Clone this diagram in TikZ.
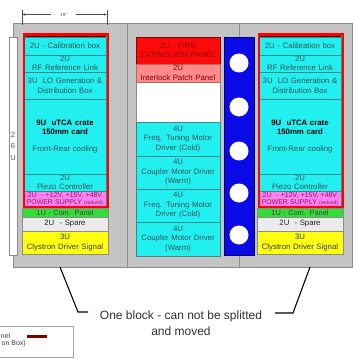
\documentclass[tikz,border=0pt]{standalone}
\usepackage{fontspec}
\setmainfont{Liberation Sans}
\usetikzlibrary{arrows.meta}
\definecolor{rackgray}{HTML}{C4C4C4}
\definecolor{rackline}{HTML}{8C8C8C}
\definecolor{cyanfill}{HTML}{22F0F0}
\definecolor{cellline}{HTML}{3A8A8A}
\definecolor{celltext}{HTML}{2E5656}
\definecolor{firered}{HTML}{FF0A0A}
\definecolor{firetext}{HTML}{8A0000}
\definecolor{interfill}{HTML}{FF8A8A}
\definecolor{pinkfill}{HTML}{FF80F0}
\definecolor{pinktext}{HTML}{802060}
\definecolor{greenfill}{HTML}{33DD33}
\definecolor{sparefill}{HTML}{EBEBEB}
\definecolor{yellowfill}{HTML}{FFFF10}
\definecolor{bluefill}{HTML}{0A0AE6}
\definecolor{darkband}{HTML}{3A0000}
\definecolor{legendred}{HTML}{800000}
\definecolor{msgtext}{HTML}{303030}
\tikzset{
  box/.style={anchor=north west, inner sep=0pt, outer sep=0pt, align=center,
    font=\fontsize{7.8}{9.6}\selectfont, line width=0.4pt},
  cy/.style={box, draw=cellline, fill=cyanfill, text=celltext, minimum width=82pt, text width=82pt},
  cym/.style={box, draw=cellline, fill=cyanfill, text=celltext, minimum width=84pt, text width=84pt},
  rackbox/.style={anchor=north west, inner sep=0pt, draw=rackline, fill=rackgray, line width=0.6pt},
  redframe/.style={anchor=north west, inner sep=0pt, draw=red, line width=2.4pt, minimum width=84pt, minimum height=172.8pt},
  band/.style={anchor=north west, inner sep=0pt, fill=darkband, minimum width=82pt, minimum height=3pt},
  hole/.style={circle, fill=white, inner sep=0pt, minimum size=19pt},
  msg/.style={anchor=base, font=\fontsize{12}{16}\selectfont, text=msgtext, inner sep=0pt},
  conn/.style={draw=black, line width=1.1pt},
}
\newcommand\rackcol[2]{%
  \node[cy, minimum height=18pt] (#1cal) at (#2+2,37) {2U - Calibration box};
  \node[cy, minimum height=17pt] (#1rf) at (#2+2,55) {2U\\RF Reference Link};
  \node[cy, minimum height=27pt] (#1lo) at (#2+2,72) {3U\ \ LO Generation \&\\Distribution Box};
  \node[cy, minimum height=75pt] (#1crate) at (#2+2,99) {\textcolor{black}{\textbf{9U\ \ uTCA crate}}\\\textcolor{black}{\textbf{150mm card}}\\[7pt]Front-Rear cooling};
  \node[cy, minimum height=17pt] (#1piezo) at (#2+2,174) {2U\\Piezo Controller};
  \node[cy, fill=pinkfill, text=pinktext, minimum height=16pt, font=\fontsize{6.9}{7.6}\selectfont] (#1power) at (#2+2,191) {2U\ \ - +12V, +15V, +48V\\POWER SUPPLY {\fontsize{5}{6}\selectfont (redund)}};
  \node[band] (#1band) at (#2+2,34) {};
  \node[redframe] (#1frame) at (#2+1,33.2) {};
  \node[box, draw=rackline, fill=greenfill, text=black!75, minimum width=86pt, text width=86pt, minimum height=9pt, font=\fontsize{7.4}{8}\selectfont] (#1com) at (#2,208) {1U - Com. Panel};
  \node[box, draw=rackline, fill=sparefill, text=black!85, minimum width=86pt, text width=86pt, minimum height=14pt] (#1spare) at (#2,217) {2U\ \ - Spare};
  \node[box, draw=rackline, fill=yellowfill, text=black!75!yellow!40!black, minimum width=86pt, text width=86pt, minimum height=23pt] (#1cly) at (#2,231) {3U\\Clystron Driver Signal};
}
\begin{document}
\begin{tikzpicture}[x=1pt, y=-1pt]
\useasboundingbox (0,0) rectangle (355,361);
% racks
\node[rackbox, minimum width=114pt, minimum height=244pt] (rackL) at (13,23) {};
\node[rackbox, minimum width=112pt, minimum height=244pt] (rackM) at (127,23) {};
\node[rackbox, minimum width=113pt, minimum height=244pt] (rackR) at (239,23) {};
% 26U bar
\node[anchor=north west, inner sep=0pt, draw=rackline, fill=white, minimum width=8pt, minimum height=218pt] (ubar) at (9,37) {};
\node[font=\fontsize{7.5}{11.5}\selectfont, text=black!65, align=center, inner sep=0pt] (ulabel) at (13,146) {2\\6\\U};
% dimension
\coordinate (e1a) at (22,10); \coordinate (e1b) at (22,25);
\coordinate (e2a) at (107,10); \coordinate (e2b) at (107,25);
\draw[black!70, line width=0.5pt] (e1a) -- (e1b);
\draw[black!70, line width=0.5pt] (e2a) -- (e2b);
\coordinate (d1) at (22,14.5); \coordinate (d2) at (107,14.5);
\draw[black!70, line width=0.6pt, {Latex[length=3pt,width=2.4pt]}-{Latex[length=3pt,width=2.4pt]}] (d1) -- (d2);
\node[fill=white, inner xsep=9pt, inner ysep=1pt, font=\fontsize{4.5}{5}\selectfont, text=black!70] (dimlbl) at (63.5,14.5) {19''};
% left and right racks
\rackcol{L}{22}
\rackcol{R}{257}
% middle rack
\node[box, draw=rackline, fill=white, minimum width=84pt, minimum height=40pt] (blank) at (136,82) {};
\node[box, draw=firetext, fill=firered, text=firetext, minimum width=84pt, text width=84pt, minimum height=27pt] (fire) at (136,37) {3U - FIRE\\EXTINGUISH PANEL};
\node[box, draw=firetext!60, fill=interfill, text=firetext, minimum width=84pt, text width=84pt, minimum height=18pt] (inter) at (136,64) {2U\\Interlock Patch Panel};
\node[cym, minimum height=34pt] (freqA) at (136,122) {4U\\Freq. Tuning Motor\\Driver (Cold)};
\node[cym, minimum height=33pt] (coupA) at (136,156) {4U\\Coupler Motor Driver\\(Warm)};
\node[cym, minimum height=33pt] (freqB) at (136,189) {4U\\Freq. Tuning Motor\\Driver (Cold)};
\node[cym, minimum height=34pt] (coupB) at (136,222) {4U\\Coupler Motor Driver\\(Warm)};
% blue column
\node[anchor=north west, inner sep=0pt, draw=blue!50!black, fill=bluefill, minimum width=30pt, minimum height=218pt] (bluecol) at (224,37) {};
\node[hole] (h1) at (239,63) {};
\node[hole] (h2) at (239,107) {};
\node[hole] (h3) at (239,151) {};
\node[hole] (h4) at (239,193) {};
\node[hole] (h5) at (239,235) {};
% message and connectors
\node[msg] (msgA) at (181,319) {One block - can not be splitted};
\node[msg] (msgB) at (181,335) {and moved};
\coordinate (lbot) at (60,267); \coordinate (lknee) at (78,312); \coordinate (lend) at (88,312);
\coordinate (rbot) at (310,267); \coordinate (rknee) at (293,313); \coordinate (rend) at (275,313);
\draw[conn] (lbot) -- (lknee) -- (lend);
\draw[conn] (rbot) -- (rknee) -- (rend);
% legend
\node[anchor=north west, inner sep=0pt, draw=black!35, fill=white, line width=0.6pt, minimum width=76pt, minimum height=31pt] (legend) at (-3,326) {};
\node[anchor=east, inner sep=0pt, font=\fontsize{7}{8}\selectfont, text=black!75] (legA) at (10.5,336) {nel};
\node[anchor=east, inner sep=0pt, font=\fontsize{7}{8}\selectfont, text=black!75] (legB) at (26,344) {on Box)};
\coordinate (lr1) at (27,336.5); \coordinate (lr2) at (47,336.5);
\draw[legendred, line width=2.6pt] (lr1) -- (lr2);
\end{tikzpicture}
\end{document}
